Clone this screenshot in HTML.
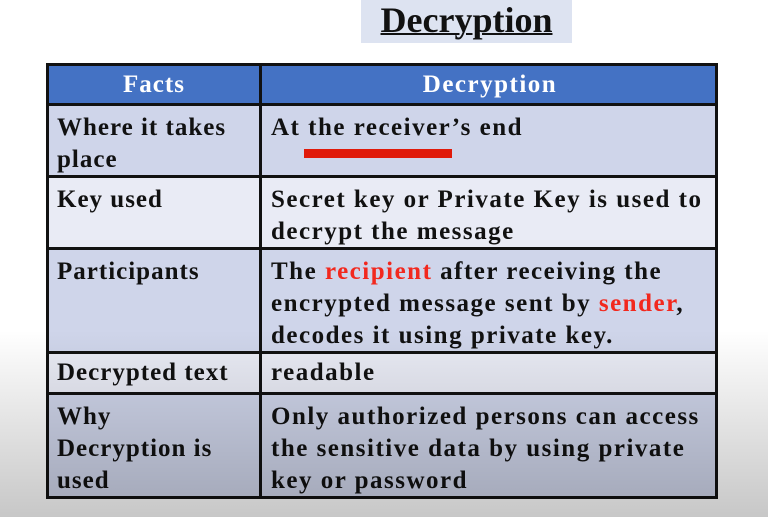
<!DOCTYPE html>
<html><head><meta charset="utf-8"><style>
html,body{margin:0;padding:0;width:768px;height:517px;overflow:hidden;background:#fff;position:relative;font-family:"Liberation Serif",serif;font-weight:bold}
.t{position:absolute;left:361px;top:0;width:211px;height:43px;background:#dde3f1;text-align:center;font-size:36px;line-height:40px;text-decoration:underline;text-decoration-thickness:2px;color:#111}
.row{position:absolute;left:46px;width:672px;box-sizing:border-box;border:3px solid #111;border-top:none}
.c{position:absolute;top:0;bottom:0;font-size:25px;line-height:32px;color:#111;white-space:nowrap;letter-spacing:1.5px;padding-top:6px;box-sizing:border-box}
.a{left:0;width:213px;padding-left:8px;border-right:3px solid #111;letter-spacing:1px}
.b{left:216px;right:0;padding-left:6px}
.h{background:#4472c4;border-top:3px solid #111}
.h .c{color:#fff;text-align:center;padding-left:0;padding-top:3px}
.o{background:#cfd5ea}
.e{background:#e9ebf5}
.r{color:#f2281e}
.ov{position:absolute;left:0;top:330px;width:768px;height:187px;background:linear-gradient(rgba(0,0,0,0),rgba(0,0,0,0.22));pointer-events:none}
.ul{position:absolute;left:304px;top:149px;width:148px;height:9px;background:#e01a0a}
</style></head><body>
<div class="t">Decryption</div>
<div class="row h" style="top:63px;height:43px"><div class="c a">Facts</div><div class="c b">Decryption</div></div>
<div class="row o" style="top:106px;height:72px"><div class="c a">Where it takes<br>place</div><div class="c b">At the receiver’s end</div></div>
<div class="row e" style="top:178px;height:72px"><div class="c a">Key used</div><div class="c b">Secret key or Private Key is used to<br>decrypt the message</div></div>
<div class="row o" style="top:250px;height:104px"><div class="c a">Participants</div><div class="c b">The <span class="r">recipient</span> after receiving the<br>encrypted message sent by <span class="r">sender</span>,<br>decodes it using private key.</div></div>
<div class="row e" style="top:354px;height:41px"><div class="c a" style="padding-top:3px">Decrypted text</div><div class="c b" style="padding-top:3px">readable</div></div>
<div class="row o" style="top:395px;height:104px"><div class="c a">Why<br>Decryption is<br>used</div><div class="c b">Only authorized persons can access<br>the sensitive data by using private<br>key or password</div></div>
<div class="ul"></div>
<div class="ov"></div>
</body></html>
